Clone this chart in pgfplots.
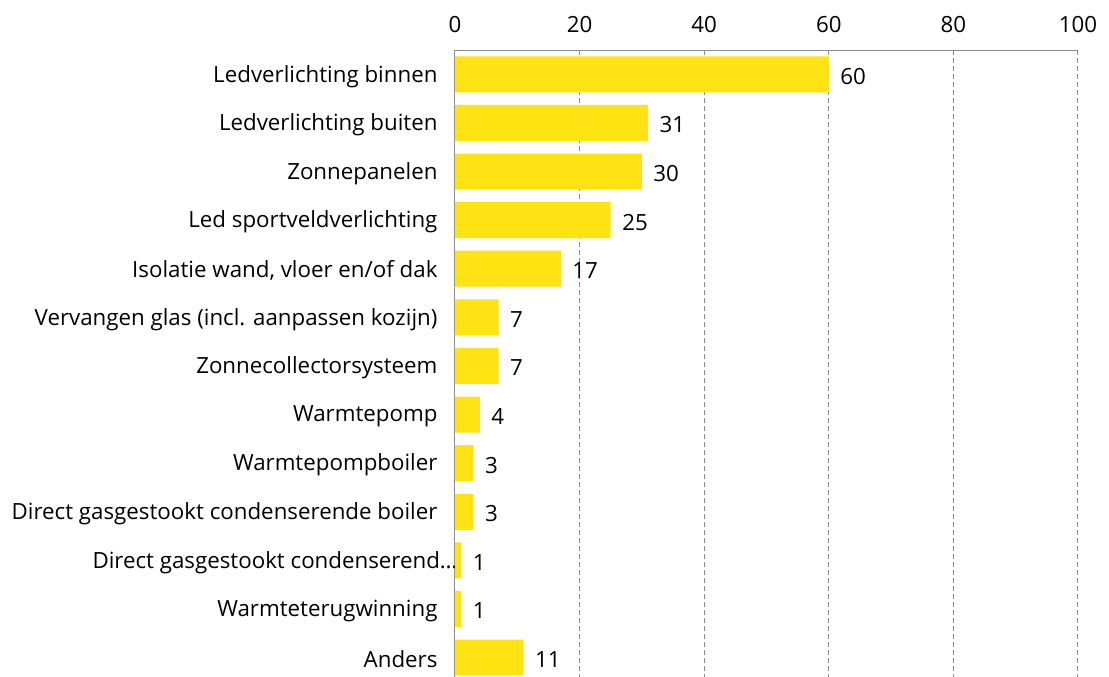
\documentclass[border=0pt]{standalone}
\usepackage{pgfplots}
\pgfplotsset{compat=1.18}
\usepackage{fontspec}
\setmainfont{Open Sans}
\definecolor{baryellow}{RGB}{255,227,18}
\definecolor{gridgray}{RGB}{140,140,140}
\begin{document}
\begin{tikzpicture}
\begin{axis}[
  name=ax, at={(0,0)}, anchor=north west,
  scale only axis, width=623pt, height=627pt,
  xbar, bar width=36pt,
  xmin=0, xmax=100,
  ymin=-0.5, ymax=12.4,
  y dir=reverse,
  axis x line*=top, axis y line*=left,
  axis line style={gridgray, line width=1pt},
  xtick={0,20,40,60,80,100},
  ytick={0,...,12},
  yticklabels={Ledverlichting binnen, Ledverlichting buiten, Zonnepanelen, Led sportveldverlichting, {Isolatie wand, vloer en/of dak}, Vervangen glas (incl. aanpassen kozijn), Zonnecollectorsysteem, Warmtepomp, Warmtepompboiler, Direct gasgestookt condenserende boiler, Direct gasgestookt condenserend\dots\hspace*{-20pt}, Warmteterugwinning, Anders},
  major tick length=0pt,
  xmajorgrids, grid style={gridgray, dash pattern=on 5pt off 3pt, line width=1pt},
  tick label style={font=\fontsize{22.3}{25}\selectfont, black},
  /pgf/number format/assume math mode=true,
  yticklabel style={xshift=-14pt, yshift=-2pt},
  xticklabel style={yshift=14pt},
  nodes near coords,
  every node near coord/.append style={font=\fontsize{22.3}{25}\selectfont, black, anchor=west, xshift=8pt, yshift=-2pt},
]
\addplot[fill=baryellow, draw=none] coordinates {
(60,0) (31,1) (30,2) (25,3) (17,4) (7,5) (7,6) (4,7) (3,8) (3,9) (1,10) (1,11) (11,12)
};
\end{axis}
\pgfresetboundingbox
\path[use as bounding box] (-455pt,50pt) rectangle (654pt,-627pt);
\end{tikzpicture}
\end{document}
